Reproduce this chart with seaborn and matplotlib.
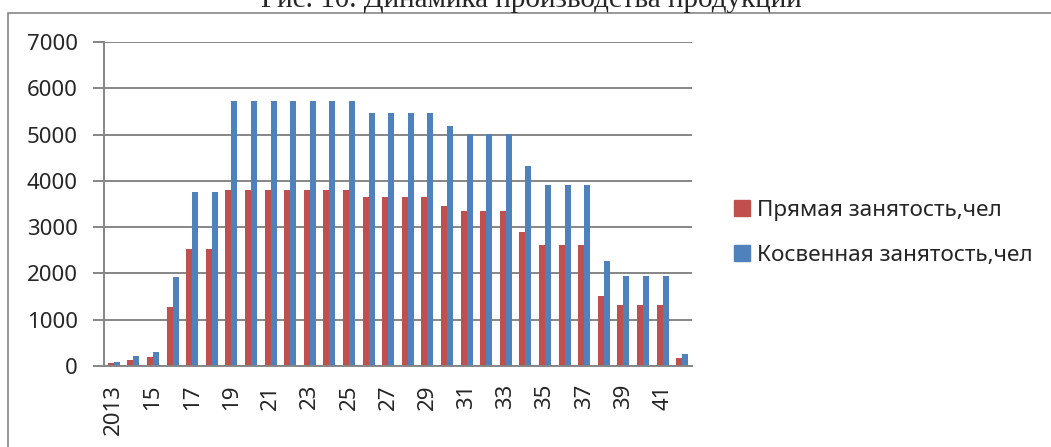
import matplotlib
matplotlib.use("Agg")
import matplotlib.pyplot as plt
import matplotlib.patches as mpatches
import pandas as pd
import seaborn as sns

years = [str(y) for y in range(2013, 2043)]
tick_labels = ["2013", "15", "17", "19", "21", "23", "25", "27", "29", "31",
               "33", "35", "37", "39", "41"]
direct = [60, 140, 190, 1280, 2520, 2520, 3810, 3810, 3810, 3810, 3810, 3810, 3810,
          3650, 3650, 3650, 3650, 3460, 3350, 3350, 3350, 2890, 2610, 2610, 2610,
          1510, 1310, 1310, 1310, 180]
indirect = [80, 210, 300, 1920, 3760, 3760, 5720, 5720, 5720, 5720, 5720, 5720, 5720,
            5460, 5460, 5460, 5460, 5180, 5010, 5010, 5010, 4330, 3910, 3910, 3910,
            2270, 1950, 1950, 1950, 270]
series_names = ["Прямая занятость,чел", "Косвенная занятость,чел"]
colors = ["#C0504D", "#4F81BD"]

df = pd.concat([
    pd.DataFrame({"year": years, "value": direct, "series": series_names[0]}),
    pd.DataFrame({"year": years, "value": indirect, "series": series_names[1]}),
])

sns.set_theme(style="white")
plt.rcParams["font.family"] = ["Noto Sans", "DejaVu Sans"]

fig = plt.figure(figsize=(10.51, 4.47), dpi=100)
ax = fig.add_axes([104 / 1051, 1 - 366 / 447, 588 / 1051, 324 / 447])

sns.barplot(data=df, x="year", y="value", hue="series", order=years,
            palette=colors, saturation=1, width=0.62, linewidth=0,
            legend=False, ax=ax)

grid_c = "#868686"
ax.set_ylim(0, 7000)
ax.set_xlim(-0.5, len(years) - 0.5)
ax.set_yticks(range(0, 7001, 1000))
ax.yaxis.grid(True, color=grid_c, lw=1.4)
ax.set_axisbelow(True)
for s in ["top", "right"]:
    ax.spines[s].set_visible(False)
for s in ["left", "bottom"]:
    ax.spines[s].set_color(grid_c)
    ax.spines[s].set_linewidth(1.4)

ax.set_xticks(range(0, len(years), 2))
ax.set_xticklabels(tick_labels, rotation=90)
ax.set_xticks([i - 0.5 for i in range(len(years) + 1)], minor=True)
ax.tick_params(axis="x", which="major", length=0, pad=13, labelsize=16)
ax.tick_params(axis="x", which="minor", length=6, width=1.4, color=grid_c, direction="out")
ax.tick_params(axis="y", length=8, width=1.4, color=grid_c, direction="out",
               pad=11, labelsize=16, left=True)
ax.set_xlabel("")
ax.set_ylabel("")

handles = [mpatches.Patch(color=c, label=n) for c, n in zip(colors, series_names)]
fig.legend(handles=handles, loc="center left", bbox_to_anchor=(714 / 1051, 1 - 233 / 447),
           frameon=False, fontsize=16.2, handlelength=0.7, handleheight=0.7,
           handletextpad=0.3, labelspacing=1.07)

fig.patches.append(mpatches.Rectangle((8 / 1051, -0.1), 1.1, 1.1 - 13 / 447,
                                      transform=fig.transFigure, fill=False,
                                      edgecolor=grid_c, lw=1.2, figure=fig))

fig.text(531 / 1051, 1 - 7 / 447, "Рис. 10. Динамика производства продукции",
         ha="center", va="baseline", fontsize=21, family="Liberation Serif")

fig.savefig("out.png", dpi=100)
